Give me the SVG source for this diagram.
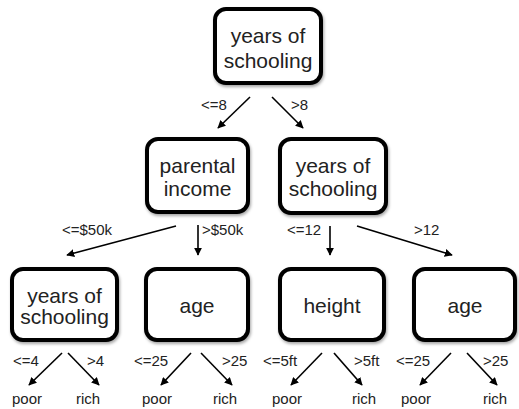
<svg xmlns="http://www.w3.org/2000/svg" width="519" height="409" viewBox="0 0 519 409">
<style>
.box{fill:#fff;stroke:#000;stroke-width:4}
.nt{font-family:"Liberation Sans",Arial,sans-serif;font-size:21px;fill:#222;text-anchor:middle}
.lb{font-family:"Liberation Sans",Arial,sans-serif;font-size:15px;fill:#222}
.edge{stroke:#000;stroke-width:1.6;fill:none;marker-end:url(#ah)}
</style>
<defs>
<marker id="ah" viewBox="0 0 10 10" refX="9" refY="5" markerWidth="5" markerHeight="5" orient="auto" markerUnits="strokeWidth">
<path d="M0,0 L10,5 L0,10 z" fill="#000"/>
</marker>
<filter id="sh" x="-10%" y="-10%" width="130%" height="130%">
<feDropShadow dx="1" dy="2" stdDeviation="1.5" flood-color="#000" flood-opacity="0.35"/>
</filter>
</defs>
<g id="n_root"><rect class="box" filter="url(#sh)" x="215" y="9" width="106" height="74" rx="11"/><text class="nt" x="268" y="43">years of</text><text class="nt" x="268" y="68">schooling</text></g>
<g id="n_parental"><rect class="box" filter="url(#sh)" x="147" y="139" width="101" height="73" rx="11"/><text class="nt" x="197.5" y="173">parental</text><text class="nt" x="197.5" y="196">income</text></g>
<g id="n_school2"><rect class="box" filter="url(#sh)" x="280" y="139" width="106" height="74" rx="11"/><text class="nt" x="333" y="173">years of</text><text class="nt" x="333" y="196">schooling</text></g>
<g id="n_school3"><rect class="box" filter="url(#sh)" x="12" y="269" width="105" height="71" rx="11"/><text class="nt" x="64.5" y="303">years of</text><text class="nt" x="64.5" y="324">schooling</text></g>
<g id="n_age1"><rect class="box" filter="url(#sh)" x="146" y="269" width="102" height="71" rx="11"/><text class="nt" x="197" y="313">age</text></g>
<g id="n_height"><rect class="box" filter="url(#sh)" x="280" y="269" width="104" height="71" rx="11"/><text class="nt" x="332" y="313">height</text></g>
<g id="n_age2"><rect class="box" filter="url(#sh)" x="414" y="269" width="101" height="71" rx="11"/><text class="nt" x="465" y="313">age</text></g>
<g id="connectors">
<line class="edge" x1="250" y1="97" x2="218" y2="128"/>
<line class="edge" x1="272" y1="97" x2="303" y2="128"/>
<line class="edge" x1="176" y1="226" x2="67" y2="255"/>
<line class="edge" x1="198" y1="225" x2="198" y2="255"/>
<line class="edge" x1="330" y1="226" x2="330" y2="255"/>
<line class="edge" x1="357" y1="226" x2="452" y2="255"/>
<line class="edge" x1="62" y1="353" x2="29" y2="385"/>
<line class="edge" x1="68" y1="353" x2="99" y2="385"/>
<line class="edge" x1="191" y1="353" x2="161" y2="385"/>
<line class="edge" x1="201" y1="353" x2="232" y2="385"/>
<line class="edge" x1="322" y1="353" x2="291" y2="385"/>
<line class="edge" x1="334" y1="353" x2="362" y2="385"/>
<line class="edge" x1="451" y1="353" x2="420" y2="385"/>
<line class="edge" x1="467" y1="353" x2="497" y2="385"/>
</g>
<g id="labels">
<text class="lb" x="201" y="110">&lt;=8</text>
<text class="lb" x="291" y="110">&gt;8</text>
<text class="lb" x="62" y="235">&lt;=$50k</text>
<text class="lb" x="202" y="235">&gt;$50k</text>
<text class="lb" x="287" y="235">&lt;=12</text>
<text class="lb" x="414" y="235">&gt;12</text>
<text class="lb" x="13" y="366">&lt;=4</text>
<text class="lb" x="87" y="366">&gt;4</text>
<text class="lb" x="134" y="366">&lt;=25</text>
<text class="lb" x="222" y="366">&gt;25</text>
<text class="lb" x="263" y="366">&lt;=5ft</text>
<text class="lb" x="354" y="366">&gt;5ft</text>
<text class="lb" x="396" y="366">&lt;=25</text>
<text class="lb" x="483" y="366">&gt;25</text>
</g>
<g id="leaves">
<text class="lb" x="12" y="404">poor</text>
<text class="lb" x="76" y="404">rich</text>
<text class="lb" x="142" y="404">poor</text>
<text class="lb" x="213" y="404">rich</text>
<text class="lb" x="272" y="404">poor</text>
<text class="lb" x="352" y="404">rich</text>
<text class="lb" x="401" y="404">poor</text>
<text class="lb" x="483" y="404">rich</text>
</g>
</svg>
